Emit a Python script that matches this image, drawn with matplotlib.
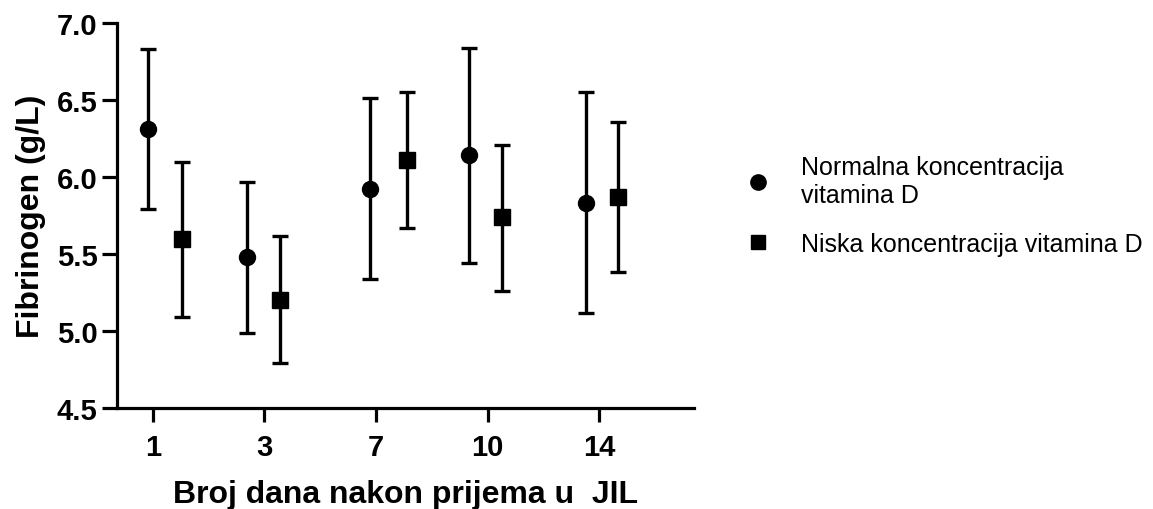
import matplotlib.pyplot as plt
from matplotlib.lines import Line2D

plt.rcParams['font.family'] = ['Liberation Sans', 'DejaVu Sans']

days = ['1', '3', '7', '10', '14']

# Normalna koncentracija vitamina D
normal_x = [-0.04, 0.84, 1.95, 2.83, 3.88]
normal_mean = [6.31, 5.48, 5.92, 6.14, 5.83]
normal_low = [5.79, 4.99, 5.34, 5.44, 5.12]
normal_high = [6.83, 5.97, 6.51, 6.84, 6.55]

# Niska koncentracija vitamina D
low_x = [0.26, 1.14, 2.28, 3.13, 4.17]
low_mean = [5.60, 5.20, 6.11, 5.74, 5.87]
low_low = [5.09, 4.79, 5.67, 5.26, 5.38]
low_high = [6.10, 5.62, 6.55, 6.21, 6.36]

fig = plt.figure(figsize=(11.53, 5.10), dpi=100)
ax = fig.add_axes([0.1015, 0.198, 0.5005, 0.755])

def draw(xs, mean, lo, hi, marker, ms):
    yerr = [[m - l for m, l in zip(mean, lo)], [h - m for m, h in zip(mean, hi)]]
    ax.errorbar(xs, mean, yerr=yerr, fmt=marker, color='black', ms=ms,
                elinewidth=2.4, capsize=5.8, capthick=2.4, ecolor='black')

draw(normal_x, normal_mean, normal_low, normal_high, 'o', 11.5)
draw(low_x, low_mean, low_low, low_high, 's', 11)

ax.set_xlim(-0.32, 4.85)
ax.set_ylim(4.5, 7.0)
ax.set_xticks(range(len(days)))
ax.set_xticklabels(days)
ax.set_yticks([4.5, 5.0, 5.5, 6.0, 6.5, 7.0])
ax.set_yticklabels(['4.5', '5.0', '5.5', '6.0', '6.5', '7.0'])

for s in ['top', 'right']:
    ax.spines[s].set_visible(False)
for s in ['left', 'bottom']:
    ax.spines[s].set_linewidth(2.3)
ax.tick_params(axis='y', length=11, width=2.3, pad=3, labelsize=21)
ax.tick_params(axis='x', length=10, width=2.3, pad=8, labelsize=21)
for lab in ax.get_xticklabels() + ax.get_yticklabels():
    lab.set_fontweight('bold')

ax.set_xlabel('Broj dana nakon prijema u  JIL', fontsize=23, fontweight='bold', labelpad=13)
ax.set_ylabel('Fibrinogen (g/L)', fontsize=23, fontweight='bold', labelpad=8)

handles = [Line2D([], [], marker='o', ls='', color='black', ms=11),
           Line2D([], [], marker='s', ls='', color='black', ms=10)]
fig.legend(handles, ['Normalna koncentracija\nvitamina D', 'Niska koncentracija vitamina D'],
           loc='upper left', bbox_to_anchor=(0.625, 0.738), frameon=False,
           fontsize=18, handletextpad=1.1, labelspacing=1.0, handlelength=1.2)

fig.savefig('out.png', dpi=100)
